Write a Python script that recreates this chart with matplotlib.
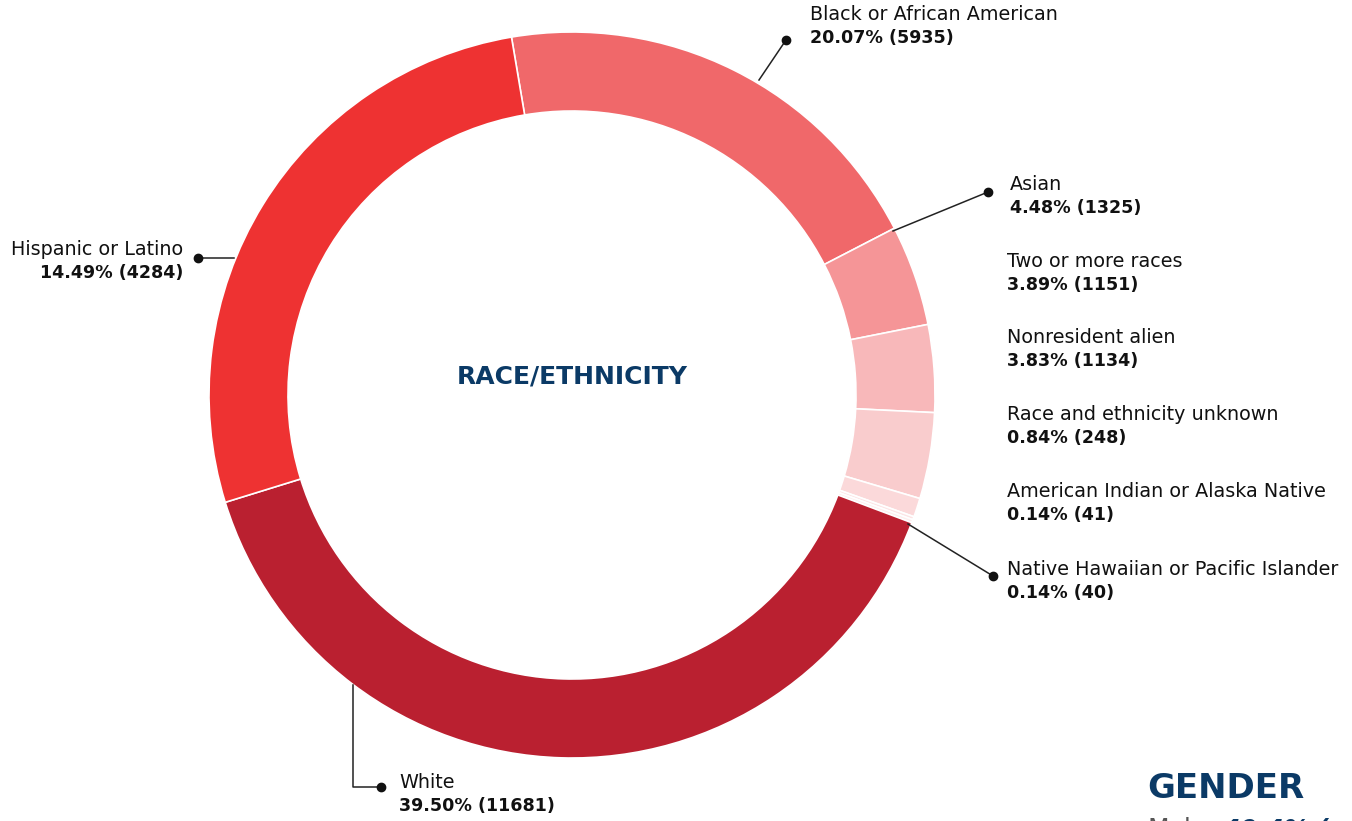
import numpy as np
import matplotlib.pyplot as plt

groups = ["Black or African American", "Asian", "Two or more races", "Nonresident alien",
          "Race and ethnicity unknown", "American Indian or Alaska Native",
          "Native Hawaiian or Pacific Islander", "White", "Hispanic or Latino"]
pcts = [20.07, 4.48, 3.89, 3.83, 0.84, 0.14, 0.14, 39.50, 14.49]
counts = [5935, 1325, 1151, 1134, 248, 41, 40, 11681, 4284]
colors = ["#F0686A", "#F59597", "#F8B8BA", "#F9CCCD", "#FBD9DA",
          "#FCE4E5", "#FDEEEE", "#BA2030", "#EE3232"]

# ring in the original has no gap for the unlisted share, hispanic slice takes it
drawn = list(pcts)
drawn[-1] += 100 - sum(pcts)

W, H = 1352, 821
navy = "#0B3A66"

def py(y):
    return H - y

fig = plt.figure(figsize=(W / 100, H / 100), dpi=100)
ax = fig.add_axes([0, 0, 1, 1])
ax.pie(drawn, radius=363, center=(572, py(395)), startangle=99.6, counterclock=False,
       colors=colors, wedgeprops=dict(width=79, edgecolor="white", linewidth=1.2))
ax.set_xlim(0, W)
ax.set_ylim(0, H)
ax.set_aspect("equal")
ax.axis("off")

# label layout (pixel positions of the name line)
lab_x = [810, 1010, 1007, 1007, 1007, 1007, 1007, 399, 183]
lab_y = [14, 184, 261, 337, 414, 491, 569, 782, 249]
for i in range(len(groups)):
    ha = "right" if lab_x[i] < 300 else "left"
    ax.text(lab_x[i], py(lab_y[i]), groups[i], ha=ha, va="center", fontsize=13.8, color="#111111")
    ax.text(lab_x[i], py(lab_y[i] + 24), f"{pcts[i]:.2f}% ({counts[i]})", ha=ha, va="center",
            fontsize=12.6, fontweight="bold", color="#111111")

# leader lines: dot first, then points toward the ring
leaders = [
    [(786, 40), (759, 80)],
    [(988, 192), (893, 231)],
    [(993, 576), (908, 524)],
    [(381, 787), (353, 787), (353, 685)],
    [(198, 258), (234, 258)],
]
for pts in leaders:
    xs = [p[0] for p in pts]
    ys = [py(p[1]) for p in pts]
    ax.plot(xs, ys, color="#222222", lw=1.1)
    ax.plot(xs[0], ys[0], "o", color="#111111", ms=6)

ax.text(572, py(376), "RACE/ETHNICITY", ha="center", va="center", fontsize=18,
        fontweight="bold", color=navy)
ax.text(1147, py(788), "GENDER", ha="left", va="center", fontsize=24.5,
        fontweight="bold", color=navy)
# next block is cut by the bottom edge in the original too
ax.text(1147, py(829), "Male", ha="left", va="center", fontsize=18, color="#555555")
ax.text(1222, py(829), "40.4% (", ha="left", va="center", fontsize=18,
        fontweight="bold", fontstyle="italic", color=navy)

fig.savefig("out.png", dpi=100)
